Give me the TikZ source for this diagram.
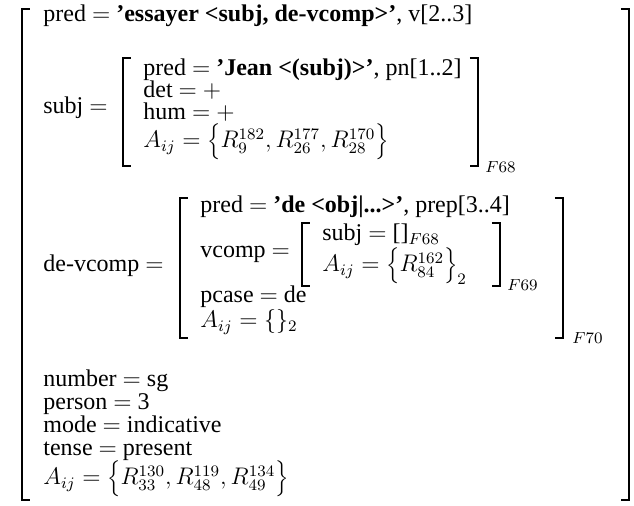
\documentclass[tikz,border=0pt]{standalone}
\usepackage[no-math]{fontspec}
\setmainfont{Liberation Serif}
\usetikzlibrary{positioning}

\begin{document}
\begin{tikzpicture}[x=0.5pt,y=-0.5pt,
    t/.style={anchor=base west,inner sep=0pt,font=\fontsize{12}{14}\selectfont},
    fl/.style={anchor=west,inner sep=0pt,font=\fontsize{12}{14}\selectfont},
    brk/.style={line width=1pt}]
  \useasboundingbox (0,0) rectangle (634,506);
  % brackets: left/right/top/bottom
  \foreach \l/\r/\u/\d in {22/629/9/500, 123/478/58/166, 180/563/198/338, 302/500/223/286}{
    \draw[brk] (\l+8,\u) -- (\l,\u) -- (\l,\d) -- (\l+8,\d);
    \draw[brk] (\r-8,\u) -- (\r,\u) -- (\r,\d) -- (\r-8,\d);
  }
  \node[fl] (f68) at (485,167) {$\scriptstyle F68$};
  \node[fl] (f69) at (507,285) {$\scriptstyle F69$};
  \node[fl] (f70) at (572,338) {$\scriptstyle F70$};
  % top level
  \node[t] (tpred) at (43,22) {pred $=$ \textbf{'essayer <subj, de-vcomp>'}, v[2..3]};
  \node[t] (subj) at (43,114) {subj $=$};
  \node[t] (spred) at (143,76) {pred $=$ \textbf{'Jean <(subj)>'}, pn[1..2]};
  \node[t] (sdet) at (143,98) {det $=$ $+$};
  \node[t] (shum) at (143,120) {hum $=$ $+$};
  \node[t] (sa) at (143,148) {$A_{ij} = \Bigl\{R^{182}_{9}, R^{177}_{26}, R^{170}_{28}\Bigr\}$};
  \node[t] (dv) at (43,272) {de-vcomp $=$};
  \node[t] (dpred) at (200,213) {pred $=$ \textbf{'de <obj|...>'}, prep[3..4]};
  \node[t] (dvc) at (200,258) {vcomp $=$};
  \node[t] (vsubj) at (322,241) {subj $=$ []$_{F68}$};
  \node[t] (va) at (322,272) {$A_{ij} = \Bigl\{R^{162}_{84}\Bigr\}_2$};
  \node[t] (dcase) at (200,303) {pcase $=$ de};
  \node[t] (da) at (200,328) {$A_{ij} = \{\}_2$};
  \foreach \n/\y/\s in {num/387/number $=$ sg, pers/410/person $=$ 3,
      mode/433/mode $=$ indicative, tense/456/tense $=$ present}
    \node[t] (\n) at (43,\y) {\s};
  \node[t] (ta) at (43,485) {$A_{ij} = \Bigl\{R^{130}_{33}, R^{119}_{48}, R^{134}_{49}\Bigr\}$};
\end{tikzpicture}
\end{document}
